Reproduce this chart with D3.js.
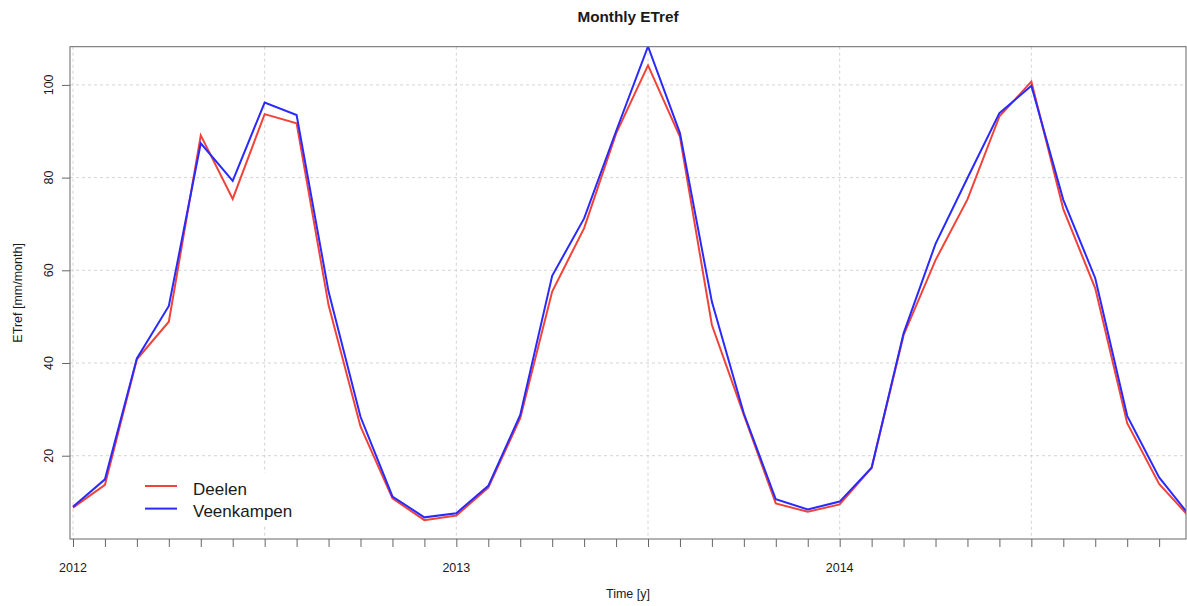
<!DOCTYPE html>
<html>
<head>
<meta charset="utf-8">
<script src="https://cdn.jsdelivr.net/npm/d3@7"></script>
<style>
  html, body { margin: 0; padding: 0; background: #fff; }
  svg { display: block; }
  text { font-family: "Liberation Sans", Arial, sans-serif; fill: #1a1a1a; }
</style>
</head>
<body>
<svg id="chart" width="1187" height="606"></svg>
<script>
// ---- data (monthly, starting Jan 2012) ----
const startYear = 2012;
const seriesNames = ["Deelen", "Veenkampen"];
const deelen = [
  8.8, 13.7, 40.8, 48.9, 89.1, 75.4, 93.7, 91.7, 52.5, 26.3, 10.8, 6.1,
  7.1, 13.1, 28.1, 55.4, 69.1, 89.5, 104.2, 88.8, 48.2, 28.8, 9.7, 7.9,
  9.5, 17.4, 46.0, 62.2, 75.3, 93.2, 100.7, 73.2, 56.1, 27.0, 13.9, 6.4
];
const veenkampen = [
  9.0, 14.9, 41.0, 52.3, 87.4, 79.3, 96.2, 93.5, 55.4, 28.4, 11.2, 6.7,
  7.6, 13.5, 28.8, 58.8, 71.2, 90.0, 108.3, 89.6, 53.2, 29.1, 10.6, 8.4,
  10.1, 17.4, 46.4, 65.7, 79.9, 93.9, 99.8, 75.2, 58.3, 28.6, 15.3, 6.7
];
const yTicks = [20, 40, 60, 80, 100];
const xLabelYears = [2012, 2013, 2014];
const colors = ["#f0443a", "#2a2aff"];

// ---- layout ----
const svg = d3.select("#chart");
const L = 70, R = 1186, T = 46.7, B = 539;

const x = d3.scaleLinear().domain([2011.9922, 2014.9034]).range([L, R]);
const y = d3.scaleLinear().domain([2.03, 108.24]).range([B, T]);

const t = i => startYear + i / 12;

// clip
svg.append("defs").append("clipPath").attr("id", "plotclip")
  .append("rect").attr("x", L).attr("y", T).attr("width", R - L).attr("height", B - T);

// grid
const gridX = d3.range(0, 6).map(k => startYear + k * 0.5);
svg.append("g").selectAll("line").data(yTicks).join("line")
  .attr("x1", L).attr("x2", R)
  .attr("y1", d => y(d)).attr("y2", d => y(d))
  .attr("stroke", "#d4d4d4").attr("stroke-width", 1).attr("stroke-dasharray", "3,3");
svg.append("g").selectAll("line").data(gridX).join("line")
  .attr("x1", d => x(d)).attr("x2", d => x(d))
  .attr("y1", T).attr("y2", B)
  .attr("stroke", "#d4d4d4").attr("stroke-width", 1).attr("stroke-dasharray", "3,3");

// lines
const line = d3.line().x((d, i) => x(t(i))).y(d => y(d));
const gLines = svg.append("g").attr("clip-path", "url(#plotclip)");
[deelen, veenkampen].forEach((s, k) => {
  gLines.append("path").datum(s)
    .attr("d", line)
    .attr("fill", "none")
    .attr("stroke", colors[k])
    .attr("stroke-width", 2)
    .attr("stroke-linejoin", "miter");
});

// box
svg.append("rect").attr("x", L).attr("y", T).attr("width", R - L).attr("height", B - T)
  .attr("fill", "none").attr("stroke", "#666").attr("stroke-width", 1);

// x axis: monthly ticks
const monthTicks = d3.range(0, 36).map(t).filter(v => x(v) <= R);
const xAxis = d3.axisBottom(x).tickValues(monthTicks).tickSize(8).tickFormat(() => "");
const gx = svg.append("g").attr("transform", `translate(0,${B})`).call(xAxis);
gx.select(".domain").remove();
gx.selectAll(".tick line").attr("stroke", "#666");
svg.append("g").selectAll("text").data(xLabelYears).join("text")
  .attr("x", d => x(d)).attr("y", 572)
  .attr("text-anchor", "middle").attr("font-size", 12.5)
  .text(d => d);

// y axis
const yAxis = d3.axisLeft(y).tickValues(yTicks).tickSize(8).tickFormat(() => "");
const gy = svg.append("g").attr("transform", `translate(${L},0)`).call(yAxis);
gy.select(".domain").remove();
gy.selectAll(".tick line").attr("stroke", "#666");
svg.append("g").selectAll("text").data(yTicks).join("text")
  .attr("transform", d => `translate(53,${y(d)}) rotate(-90)`)
  .attr("text-anchor", "middle").attr("font-size", 12.5)
  .text(d => d);

// titles
svg.append("text").attr("x", (L + R) / 2).attr("y", 22)
  .attr("text-anchor", "middle").attr("font-size", 15.3).attr("font-weight", "bold")
  .text("Monthly ETref");
svg.append("text").attr("x", (L + R) / 2).attr("y", 598)
  .attr("text-anchor", "middle").attr("font-size", 12.5)
  .text("Time [y]");
svg.append("text").attr("transform", `translate(21.5,${(T + B) / 2}) rotate(-90)`)
  .attr("text-anchor", "middle").attr("font-size", 12.5)
  .text("ETref [mm/month]");

// legend
const lg = svg.append("g");
lg.append("rect").attr("x", 132).attr("y", 473).attr("width", 175).attr("height", 53).attr("fill", "#fff");
seriesNames.forEach((n, k) => {
  const yy = 486 + k * 22.6;
  lg.append("line").attr("x1", 145).attr("x2", 177).attr("y1", yy).attr("y2", yy)
    .attr("stroke", colors[k]).attr("stroke-width", 2);
  lg.append("text").attr("x", 193).attr("y", yy + 8.5).attr("font-size", 17).text(n);
});
</script>
</body>
</html>
